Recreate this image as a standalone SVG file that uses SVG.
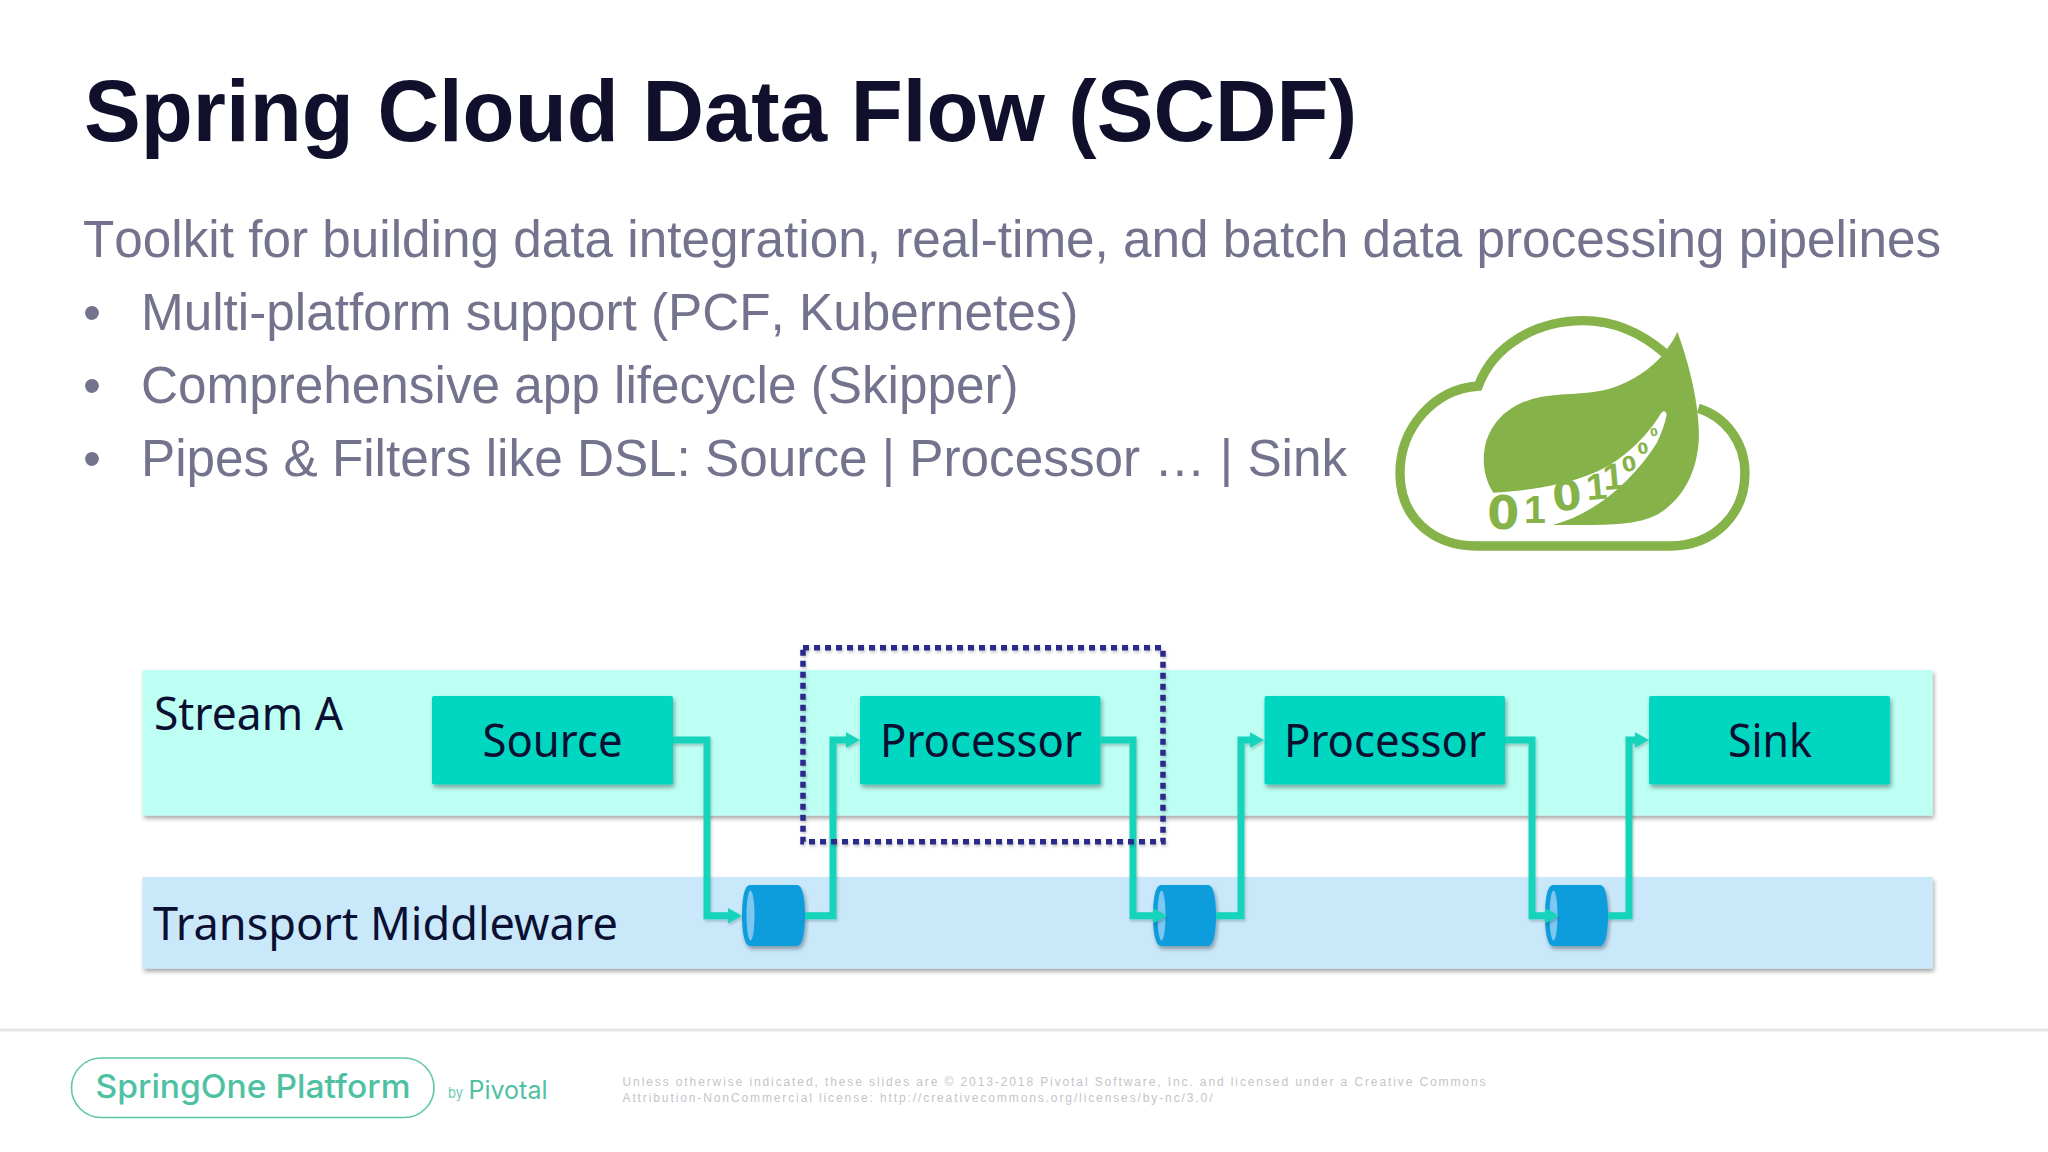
<svg xmlns="http://www.w3.org/2000/svg" width="2048" height="1152" viewBox="0 0 2048 1152">
<defs>
<filter id="sh" x="-5%" y="-10%" width="110%" height="125%"><feDropShadow dx="1.5" dy="3" stdDeviation="2" flood-color="#000" flood-opacity="0.35"/></filter>
<filter id="ls" filterUnits="userSpaceOnUse" x="0" y="0" width="2048" height="1152"><feDropShadow dx="1" dy="2" stdDeviation="1.5" flood-color="#000" flood-opacity="0.22"/></filter>
<marker id="ah" markerUnits="userSpaceOnUse" markerWidth="15" markerHeight="18" refX="0.5" refY="9" orient="auto"><path d="M0 1L14.5 9L0 17Z" fill="#14d4bc"/></marker>
</defs>
<style>
.title{font:bold 88px "Liberation Sans",Arial,sans-serif;fill:#10102c}
.body{font:51.28px "Liberation Sans",Arial,sans-serif;fill:#73738d;font-kerning:none}
.lab{font:46px "Noto Sans",sans-serif;fill:#0b1033}
.band{filter:url(#sh)}
.box{fill:#02d6c0;filter:url(#sh)}
.conn{fill:none;stroke:#14d4bc;stroke-width:7;stroke-linejoin:miter;filter:url(#ls)}
.cyl{fill:#119cdc;filter:url(#sh)}
.lens{fill:#7cc6ef}
.leg{font:12px "Liberation Sans",Arial,sans-serif;fill:#c4c4c8}
.dig{font-family:"DejaVu Sans",sans-serif;font-weight:bold;fill:#86b24a}
.one{font-family:"Liberation Sans",Arial,sans-serif;font-weight:bold;fill:#86b24a}
</style>
<rect width="2048" height="1152" fill="#fff"/>
<g id="heading">
<text class="title" x="84" y="141" textLength="1273" lengthAdjust="spacingAndGlyphs">Spring Cloud Data Flow (SCDF)</text>
<text class="body" x="83" y="256.7">Toolkit for building data integration, real-time, and batch data processing pipelines</text>
<text class="body" x="83" y="330">•</text><text class="body" x="141" y="330">Multi-platform support (PCF, Kubernetes)</text>
<text class="body" x="83" y="403">•</text><text class="body" x="141" y="403">Comprehensive app lifecycle (Skipper)</text>
<text class="body" x="83" y="476.3">•</text><text class="body" x="141" y="476.3">Pipes &amp; Filters like DSL: Source | Processor … | Sink</text>
</g>
<g id="logo" transform="translate(1370 300) scale(0.3333)">
<path d="M885 160C810 95 730 62 640 62C500 62 370 135 325 258C190 268 90 385 90 520C90 650 185 738 320 738L900 738C1035 738 1125 640 1125 520C1125 425 1065 350 985 325" fill="none" stroke="#86b24a" stroke-width="28"/>
<path d="M922 95C950 170 985 290 987 400C987 510 940 600 860 645C790 680 680 675 548 675C680 640 790 540 860 430C875 400 885 370 890 345C888 330 878 330 870 345C830 410 760 480 680 515C580 558 470 572 370 578C345 540 335 490 345 440C365 350 440 300 530 288C610 278 680 285 750 255C810 230 860 190 885 155C900 135 915 115 922 95Z" fill="#86b24a"/>
<text class="dig" font-size="138" x="352" y="687">0</text>
<text class="one" font-size="118" x="462" y="668">1</text>
<text class="dig" font-size="125" transform="rotate(-6 556 632)" x="552" y="634">0</text>
<text class="one" font-size="112" transform="rotate(-5 660 600)" x="652" y="600">1</text>
<text class="one" font-size="112" transform="rotate(-5 710 570)" x="702" y="570">1</text>
<text class="dig" font-size="62" transform="rotate(-12 762 515)" x="760" y="517">0</text>
<text class="dig" font-size="46" transform="rotate(-12 808 462)" x="806" y="464">0</text>
<text class="dig" font-size="33" transform="rotate(-12 844 408)" x="843" y="410">0</text>
</g>
<g id="stream-a"><rect class="band" x="142.5" y="670" width="1790" height="145.5" fill="#bdfff3"/><text class="lab" x="154" y="729.5" textLength="189" lengthAdjust="spacingAndGlyphs">Stream A</text></g>
<g id="transport"><rect class="band" x="142.5" y="877" width="1790" height="91.5" fill="#c9e9fb"/><text class="lab" x="153" y="940" textLength="465" lengthAdjust="spacingAndGlyphs">Transport Middleware</text></g>
<g id="source"><rect class="box" x="432" y="696" width="241" height="88.5" rx="2"/><text class="lab" x="482.5" y="757" textLength="140" lengthAdjust="spacingAndGlyphs">Source</text></g>
<g id="processor-1"><rect class="box" x="860" y="696" width="240.5" height="88.5" rx="2"/><text class="lab" x="880" y="757" textLength="202" lengthAdjust="spacingAndGlyphs">Processor</text></g>
<g id="processor-2"><rect class="box" x="1264.5" y="696" width="240.5" height="88.5" rx="2"/><text class="lab" x="1284" y="757" textLength="202" lengthAdjust="spacingAndGlyphs">Processor</text></g>
<g id="sink"><rect class="box" x="1649" y="696" width="241" height="88.5" rx="2"/><text class="lab" x="1728" y="757" textLength="84" lengthAdjust="spacingAndGlyphs">Sink</text></g>
<g id="queue-1"><path class="cyl" d="M750 885H797C803 885 805 900 805 915.5S803 946 797 946H750C744 946 742 931 742 915.5S744 885 750 885Z"/><ellipse class="lens" cx="750.5" cy="915.5" rx="4" ry="25"/></g>
<g id="queue-2"><path class="cyl" d="M1161 885H1208C1214 885 1216 900 1216 915.5S1214 946 1208 946H1161C1155 946 1153 931 1153 915.5S1155 885 1161 885Z"/><ellipse class="lens" cx="1161.5" cy="915.5" rx="4" ry="25"/></g>
<g id="queue-3"><path class="cyl" d="M1553 885H1600C1606 885 1608 900 1608 915.5S1606 946 1600 946H1553C1547 946 1545 931 1545 915.5S1547 885 1553 885Z"/><ellipse class="lens" cx="1553.5" cy="915.5" rx="4" ry="25"/></g>
<g id="connectors">
<path class="conn" d="M673 740H707V915.7H728" marker-end="url(#ah)"/>
<path class="conn" d="M805 915.7H833V740H846" marker-end="url(#ah)"/>
<path class="conn" d="M1100.5 740H1133V915.7H1153" marker-end="url(#ah)"/>
<path class="conn" d="M1216 915.7H1241V740H1250" marker-end="url(#ah)"/>
<path class="conn" d="M1505 740H1532V915.7H1545" marker-end="url(#ah)"/>
<path class="conn" d="M1608 915.7H1629V740H1635" marker-end="url(#ah)"/>
</g>
<g id="selection"><rect x="803" y="647.7" width="360" height="194" fill="none" stroke="#2b2a8c" stroke-width="5.5" stroke-dasharray="6 5" filter="url(#ls)"/></g>
<g id="footer">
<rect x="0" y="1028.5" width="2048" height="3" fill="#e6e6e6"/>
<rect x="71.5" y="1058" width="362.5" height="59.5" rx="29.7" fill="none" stroke="#5ec6a8" stroke-width="1.6"/>
<text x="95.5" y="1098" font-family="Inter,sans-serif" font-size="33" font-weight="500" fill="#4fc1a3" textLength="315" lengthAdjust="spacingAndGlyphs">SpringOne Platform</text>
<text x="448" y="1098" font-family="Inter,sans-serif" font-size="15" fill="#6cc9b0" textLength="15" lengthAdjust="spacingAndGlyphs">by</text>
<text x="468.5" y="1099" font-family="Inter,sans-serif" font-size="25" font-weight="400" fill="#4fc1a3" textLength="79" lengthAdjust="spacingAndGlyphs">Pivotal</text>
<text class="leg" x="622.5" y="1086" textLength="863" lengthAdjust="spacing">Unless otherwise indicated, these slides are © 2013-2018 Pivotal Software, Inc. and licensed under a Creative Commons</text>
<text class="leg" x="622.5" y="1101.7" textLength="590" lengthAdjust="spacing">Attribution-NonCommercial license: http://creativecommons.org/licenses/by-nc/3.0/</text>
</g>
</svg>
